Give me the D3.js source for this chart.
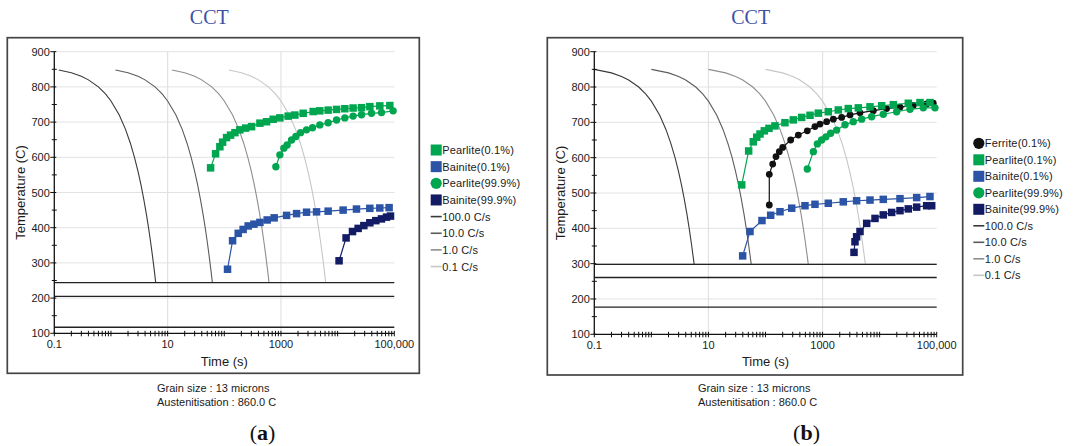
<!DOCTYPE html>
<html>
<head>
<meta charset="utf-8">
<script src="https://cdn.jsdelivr.net/npm/d3@7"></script>
<style>
  body { margin: 0; background: #fff; }
  svg { display: block; }
  text { font-family: "Liberation Sans", Arial, sans-serif; }
</style>
</head>
<body>
<svg id="chart" width="1074" height="446"></svg>
<script>
// ---- axis ticks ----
const xTickValues = [0.1, 10, 1000, 100000];
const xTickLabels = ["0.1", "10", "1000", "100,000"];
const yTickValues = [100, 200, 300, 400, 500, 600, 700, 800, 900];
const yMinorValues = [150, 250, 350, 450, 550, 650, 750, 850];
const gridTemps = [200, 300, 400, 500, 600, 700, 800, 900];
const gridTimes = [10, 1000];

const rateLabels = ["100.0 C/s", "10.0 C/s", "1.0 C/s", "0.1 C/s"];

// ---- panel (a): cooling curves (temperature C vs time s) ----
const coolTempsA = [848, 840, 830, 820, 800, 780, 760, 720, 680, 640, 600, 560, 520, 480, 440, 400, 360, 320, 280, 244];
const coolTimesA100 = [0.12, 0.2, 0.3, 0.4, 0.6, 0.8, 1.0, 1.4, 1.8, 2.2, 2.6, 3.0, 3.4, 3.8, 4.2, 4.6, 5.0, 5.4, 5.8, 6.16];
const coolTimesA10 = [1.2, 2, 3, 4, 6, 8, 10, 14, 18, 22, 26, 30, 34, 38, 42, 46, 50, 54, 58, 61.6];
const coolTimesA1 = [12, 20, 30, 40, 60, 80, 100, 140, 180, 220, 260, 300, 340, 380, 420, 460, 500, 540, 580, 616];
const coolTimesA01 = [120, 200, 300, 400, 600, 800, 1000, 1400, 1800, 2200, 2600, 3000, 3400, 3800, 4200, 4600, 5000, 5400, 5800, 6160];
const martensiteA = [244, 205, 117];

// ---- panel (a): transformation curves [time s, temperature C] ----
const pearlite01A = [[57.3,570],[70.2,610],[83.5,630],[93.3,643],[109.7,656],[129,663],[154,670],[188,678],[238,683],[303,687],[425,697],[557,701],[728,708],[957,712],[1340,717],[1758,720],[2466,725],[3700,730],[4850,732],[6800,734],[9570,736],[13400,738],[18750,740],[26400,741],[37000,744],[55500,746],[83400,747]];
const bainite01A = [[114,282],[140,363],[176,384],[215,395],[264,405],[333,410],[425,415],[571,422],[759,428],[1256,435],[1885,440],[2826,444],[4245,445],[6800,447],[12500,450],[21500,453],[37000,455],[55500,456],[81000,457]];
const pearlite999A = [[813,573],[957,607],[1125,626],[1286,635],[1538,649],[1834,659],[2218,670],[2826,678],[3605,684],[4850,692],[6800,698],[9570,706],[13400,712],[18750,717],[26400,721],[39600,725],[59400,727],[95300,732]];
const bainite999A = [[10600,306],[14100,371],[18300,389],[23000,398],[29000,406],[37000,414],[47200,420],[59400,425],[72800,430],[85700,433]];

// ---- panel (b): cooling curves ----
const coolTempsB = [850, 840, 830, 820, 800, 780, 760, 720, 680, 640, 600, 560, 520, 480, 440, 400, 360, 320, 298];
const coolTimesB100 = [0.1, 0.2, 0.3, 0.4, 0.6, 0.8, 1.0, 1.4, 1.8, 2.2, 2.6, 3.0, 3.4, 3.8, 4.2, 4.6, 5.0, 5.4, 5.62];
const coolTimesB10 = [1, 2, 3, 4, 6, 8, 10, 14, 18, 22, 26, 30, 34, 38, 42, 46, 50, 54, 56.2];
const coolTimesB1 = [10, 20, 30, 40, 60, 80, 100, 140, 180, 220, 260, 300, 340, 380, 420, 460, 500, 540, 562];
const coolTimesB01 = [100, 200, 300, 400, 600, 800, 1000, 1400, 1800, 2200, 2600, 3000, 3400, 3800, 4200, 4600, 5000, 5400, 5620];
const martensiteB = [298, 261, 177];

// ---- panel (b): transformation curves ----
const ferrite01B = [[116.5,466],[116.5,553],[133.7,582],[152.8,603],[174.6,617],[200,629],[276,650],[376,664],[540,676],[736,688],[902,695],[1180,702],[1543,709],[2160,714],[3030,721],[4530,727],[7750,733],[13270,739],[22750,743],[38900,748],[66700,752],[87100,754]];
const pearlite01B = [[38.3,523],[50.7,619],[61.1,645],[70.2,658],[80.1,667],[95.3,676],[115,683],[146.6,690],[219,699],[307,707],[430,714],[603,720],[842,726],[1260,730],[1888,735],[2825,739],[4230,741],[6780,744],[10860,747],[17400,750],[31800,754],[51000,756],[76200,756]];
const bainite01B = [[39.8,322],[53.5,391],[86.7,422],[123.3,437],[179.5,447],[288,457],[492,464],[736,468],[1260,471],[2307,475],[3950,478],[6780,480],[11590,482],[22750,484],[44560,487],[76200,490]];
const pearlite999B = [[540,568],[689,617],[809,639],[964,650],[1148,659],[1387,669],[1766,678],[2472,693],[3450,702],[4840,709],[7240,716],[11590,723],[19860,730],[34000,737],[58200,741],[93300,741]];
const bainite999B = [[3556,332],[3700,362],[3950,376],[4530,391],[5930,414],[8300,428],[11590,438],[16250,445],[22750,450],[31800,455],[44560,460],[66700,464],[81700,464]];

// ---- styling ----
const GREEN = "#00a550", BLUE = "#2c54a6", NAVY = "#131b64", BLACK = "#111111";
const rateColors = ["#3a3a3a", "#5c5c5c", "#8e8e8e", "#c6c6c6"];

const svg = d3.select("#chart");
svg.append("rect").attr("width", 1074).attr("height", 446).attr("fill", "#fff");

function drawPanel(cfg) {
  const g = svg.append("g");
  const x = d3.scaleLog().domain([0.1, 100000]).range([cfg.x0, cfg.x1]);
  const y = d3.scaleLinear().domain([100, 900]).range([cfg.y1, cfg.y0]);

  // title
  g.append("text").attr("x", cfg.titleX).attr("y", 24)
    .attr("text-anchor", "middle")
    .style("font-family", "'Liberation Serif', 'Times New Roman', serif")
    .style("font-size", "20px").attr("fill", "#3c50a6").text("CCT");

  // frame
  g.append("rect").attr("x", cfg.fx).attr("y", cfg.fy).attr("width", cfg.fw).attr("height", cfg.fh)
    .attr("fill", "none").attr("stroke", "#444").attr("stroke-width", 1.7);

  // grid
  g.selectAll(".hg").data(gridTemps).join("line")
    .attr("x1", cfg.x0).attr("x2", cfg.x1)
    .attr("y1", d => y(d)).attr("y2", d => y(d))
    .attr("stroke", "#e2e2e2").attr("stroke-width", 1);
  g.selectAll(".vg").data(gridTimes).join("line")
    .attr("x1", d => x(d)).attr("x2", d => x(d))
    .attr("y1", cfg.y0).attr("y2", cfg.y1)
    .attr("stroke", "#e2e2e2").attr("stroke-width", 1.2);

  // cooling curves
  const line = d3.line().x(d => x(d[0])).y(d => y(d[1]));
  cfg.cooling.forEach((times, i) => {
    const pts = times.map((t, k) => [t, cfg.coolTemps[k]]);
    g.append("path").attr("d", line(pts)).attr("fill", "none")
      .attr("stroke", rateColors[i]).attr("stroke-width", 1.1);
  });

  // martensite lines
  g.selectAll(".ms").data(cfg.ms).join("line")
    .attr("x1", cfg.x0).attr("x2", cfg.x1)
    .attr("y1", d => y(d)).attr("y2", d => y(d))
    .attr("stroke", "#222").attr("stroke-width", 1.4);

  // axes
  g.append("line").attr("x1", cfg.x0).attr("x2", cfg.x0).attr("y1", cfg.y0).attr("y2", cfg.y1)
    .attr("stroke", "#111").attr("stroke-width", 1.3);
  g.append("line").attr("x1", cfg.x0).attr("x2", cfg.x1).attr("y1", cfg.y1).attr("y2", cfg.y1)
    .attr("stroke", "#111").attr("stroke-width", 1.3);

  // x ticks (log minor + major)
  g.selectAll(".xt").data(x.ticks()).join("line")
    .attr("x1", d => x(d)).attr("x2", d => x(d))
    .attr("y1", cfg.y1 - 2.5).attr("y2", cfg.y1 + 3)
    .attr("stroke", "#111").attr("stroke-width", 1);
  g.selectAll(".xl").data(xTickValues).join("text")
    .attr("x", d => x(d)).attr("y", cfg.y1 + 15)
    .attr("text-anchor", "middle").style("font-size", "11px").attr("fill", "#1a1a1a")
    .text((d, i) => xTickLabels[i]);

  // y ticks
  g.selectAll(".yt").data(yTickValues).join("line")
    .attr("x1", cfg.x0 - 4).attr("x2", cfg.x0 + 2)
    .attr("y1", d => y(d)).attr("y2", d => y(d))
    .attr("stroke", "#111").attr("stroke-width", 1);
  g.selectAll(".ym").data(yMinorValues).join("line")
    .attr("x1", cfg.x0 - 2.5).attr("x2", cfg.x0 + 2.5)
    .attr("y1", d => y(d)).attr("y2", d => y(d))
    .attr("stroke", "#111").attr("stroke-width", 1);
  g.selectAll(".yl").data(yTickValues).join("text")
    .attr("x", cfg.x0 - 4.5).attr("y", d => y(d) + 4)
    .attr("text-anchor", "end").style("font-size", "11px").attr("fill", "#1a1a1a")
    .text(d => d);

  // axis titles
  g.append("text").attr("x", (cfg.x0 + cfg.x1) / 2).attr("y", 365.5)
    .attr("text-anchor", "middle").style("font-size", "13px").attr("fill", "#1a1a1a").text("Time (s)");
  g.append("text")
    .attr("transform", `translate(${cfg.fx + 17.5},${(cfg.y0 + cfg.y1) / 2}) rotate(-90)`)
    .attr("text-anchor", "middle").style("font-size", "13px").attr("fill", "#1a1a1a").text("Temperature (C)");

  // transformation series
  cfg.series.forEach(s => {
    const sg = g.append("g");
    sg.append("path").attr("d", line(s.data)).attr("fill", "none")
      .attr("stroke", s.color).attr("stroke-width", 1.2);
    if (s.shape === "square") {
      const sz = s.size || 7.5;
      sg.selectAll("rect").data(s.data).join("rect")
        .attr("x", d => x(d[0]) - sz / 2).attr("y", d => y(d[1]) - sz / 2)
        .attr("width", sz).attr("height", sz).attr("fill", s.color);
    } else {
      sg.selectAll("circle").data(s.data).join("circle")
        .attr("cx", d => x(d[0])).attr("cy", d => y(d[1]))
        .attr("r", s.r || 3.7).attr("fill", s.color);
    }
  });

  // legend
  const lg = g.append("g");
  let row = 0;
  cfg.series.forEach(s => {
    const cy = cfg.ly + row * cfg.ldy;
    if (s.shape === "square") {
      lg.append("rect").attr("x", cfg.lx).attr("y", cy - 5.5).attr("width", 11).attr("height", 11).attr("fill", s.color);
    } else {
      lg.append("circle").attr("cx", cfg.lx + 5.5).attr("cy", cy).attr("r", 5.6).attr("fill", s.color);
    }
    lg.append("text").attr("x", cfg.lx + 11.5).attr("y", cy + 4)
      .style("font-size", "11px").style("letter-spacing", "0.15px").attr("fill", "#1a1a1a").text(s.name);
    row++;
  });
  rateLabels.forEach((lab, i) => {
    const cy = cfg.ly + row * cfg.ldy;
    lg.append("line").attr("x1", cfg.lx).attr("x2", cfg.lx + 11).attr("y1", cy).attr("y2", cy)
      .attr("stroke", rateColors[i]).attr("stroke-width", 1.6);
    lg.append("text").attr("x", cfg.lx + 11.5).attr("y", cy + 4)
      .style("font-size", "11px").style("letter-spacing", "0.15px").attr("fill", "#1a1a1a").text(lab);
    row++;
  });

  // footnotes
  g.append("text").attr("x", cfg.noteX).attr("y", 391.5)
    .style("font-size", "11px").attr("fill", "#1a1a1a").text("Grain size : 13 microns");
  g.append("text").attr("x", cfg.noteX).attr("y", 406)
    .style("font-size", "11px").attr("fill", "#1a1a1a").text("Austenitisation : 860.0 C");

  const cap = g.append("text").attr("x", cfg.capX).attr("y", 439.5)
    .attr("text-anchor", "middle")
    .style("font-family", "'Liberation Serif', 'Times New Roman', serif")
    .style("font-size", "22px").attr("fill", "#111");
  cap.append("tspan").text("(");
  cap.append("tspan").style("font-weight", "bold").text(cfg.capLetter);
  cap.append("tspan").text(")");
}

drawPanel({
  fx: 7.3, fy: 37.7, fw: 412, fh: 335.6,
  x0: 54.3, x1: 394.3, y0: 51.7, y1: 333.3,
  titleX: 209.3, noteX: 157, capX: 262.5, capLetter: "a",
  lx: 430.7, ly: 150, ldy: 16.65,
  coolTemps: coolTempsA,
  cooling: [coolTimesA100, coolTimesA10, coolTimesA1, coolTimesA01],
  ms: martensiteA,
  series: [
    { name: "Pearlite(0.1%)", data: pearlite01A, color: GREEN, shape: "square" },
    { name: "Bainite(0.1%)", data: bainite01A, color: BLUE, shape: "square" },
    { name: "Pearlite(99.9%)", data: pearlite999A, color: GREEN, shape: "circle" },
    { name: "Bainite(99.9%)", data: bainite999A, color: NAVY, shape: "square" }
  ]
});

drawPanel({
  fx: 547.3, fy: 37.7, fw: 415.4, fh: 337.3,
  x0: 594.3, x1: 936.7, y0: 51.7, y1: 334.3,
  titleX: 750.7, noteX: 698, capX: 806.5, capLetter: "b",
  lx: 973.3, ly: 143.3, ldy: 16.5,
  coolTemps: coolTempsB,
  cooling: [coolTimesB100, coolTimesB10, coolTimesB1, coolTimesB01],
  ms: martensiteB,
  series: [
    { name: "Ferrite(0.1%)", data: ferrite01B, color: BLACK, shape: "circle", r: 3.4 },
    { name: "Pearlite(0.1%)", data: pearlite01B, color: GREEN, shape: "square" },
    { name: "Bainite(0.1%)", data: bainite01B, color: BLUE, shape: "square" },
    { name: "Pearlite(99.9%)", data: pearlite999B, color: GREEN, shape: "circle" },
    { name: "Bainite(99.9%)", data: bainite999B, color: NAVY, shape: "square" }
  ]
});
</script>
</body>
</html>
